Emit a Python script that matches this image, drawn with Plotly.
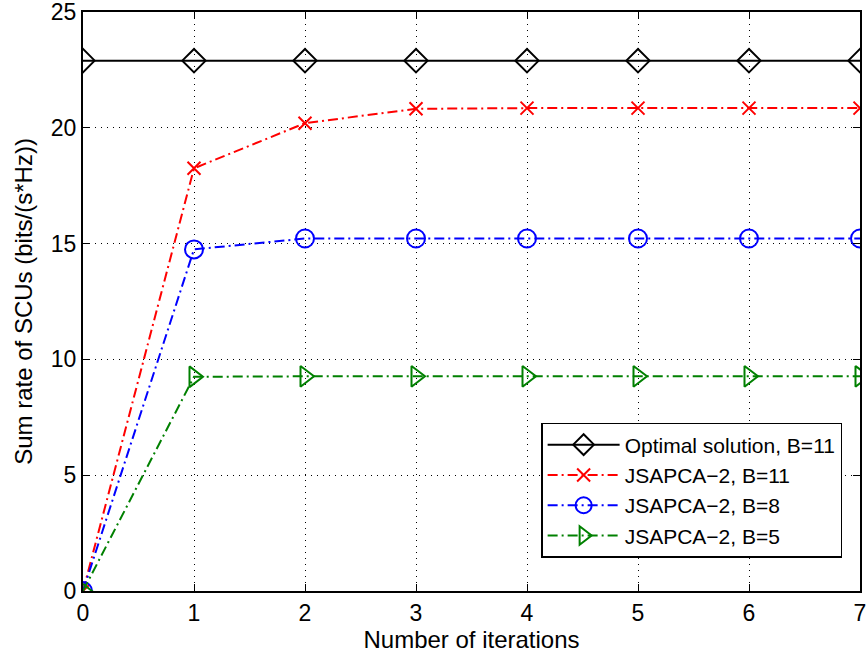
import plotly.graph_objects as go

iterations = [0, 1, 2, 3, 4, 5, 6, 7]
optimal_b11 = [22.9, 22.9, 22.9, 22.9, 22.9, 22.9, 22.9, 22.9]
jsapca_b11 = [0, 18.25, 20.2, 20.82, 20.85, 20.85, 20.85, 20.85]
jsapca_b8 = [0, 14.75, 15.22, 15.22, 15.22, 15.22, 15.22, 15.22]
jsapca_b5 = [0, 9.25, 9.27, 9.27, 9.27, 9.27, 9.27, 9.27]

x_ticks = [0, 1, 2, 3, 4, 5, 6, 7]
y_ticks = [0, 5, 10, 15, 20, 25]

fig = go.Figure()
fig.add_trace(go.Scatter(x=iterations, y=optimal_b11, mode="lines+markers",
                         name="Optimal solution, B=11",
                         line=dict(color="black", width=2),
                         marker=dict(symbol="diamond-open", size=18, color="black", line=dict(width=2))))
fig.add_trace(go.Scatter(x=iterations, y=jsapca_b11, mode="lines+markers",
                         name="JSAPCA\u22122, B=11",
                         line=dict(color="red", width=2, dash="10px,4px,2px,4px"),
                         marker=dict(symbol="x-thin-open", size=13, color="red", line=dict(width=2, color="red"))))
fig.add_trace(go.Scatter(x=iterations, y=jsapca_b8, mode="lines+markers",
                         name="JSAPCA\u22122, B=8",
                         line=dict(color="blue", width=2, dash="10px,4px,2px,4px"),
                         marker=dict(symbol="circle-open", size=18, color="blue", line=dict(width=2))))
fig.add_trace(go.Scatter(x=iterations, y=jsapca_b5, mode="lines+markers",
                         name="JSAPCA\u22122, B=5",
                         line=dict(color="green", width=2, dash="10px,4px,2px,4px"),
                         marker=dict(symbol="triangle-right-open", size=18, color="green", line=dict(width=2))))

axis_common = dict(showline=True, linecolor="black", linewidth=2, mirror="ticks",
                   ticks="inside", ticklen=7, tickcolor="black", tickwidth=1,
                   showgrid=True, gridcolor="black", gridwidth=1, griddash="1px,5px",
                   zeroline=False, automargin=False, ticklabeloverflow="allow",
                   tickfont=dict(size=23, color="black"))

fig.update_xaxes(range=[0, 7], tickvals=x_ticks, ticktext=[str(v) for v in x_ticks],
                 title=dict(text="Number of iterations", font=dict(size=24, color="black"), standoff=2),
                 **axis_common)
fig.update_yaxes(range=[0, 25], tickvals=y_ticks, ticktext=[str(v) for v in y_ticks],
                 title=dict(text="Sum rate of SCUs (bits/(s*Hz))", font=dict(size=24, color="black"), standoff=11),
                 **axis_common)

fig.update_layout(
    width=866, height=656,
    margin=dict(l=83, r=6, t=12, b=65),
    paper_bgcolor="white", plot_bgcolor="white",
    font=dict(family="Liberation Sans, Arial, sans-serif", color="black"),
    showlegend=True,
    legend=dict(x=0.977, y=0.057, xanchor="right", yanchor="bottom",
                bgcolor="white", bordercolor="black", borderwidth=1.5,
                font=dict(size=21, color="black"), tracegroupgap=0, itemwidth=72),
)

fig.write_html("out.html", config={"displayModeBar": False},
               post_script="document.body.style.margin='0';")
